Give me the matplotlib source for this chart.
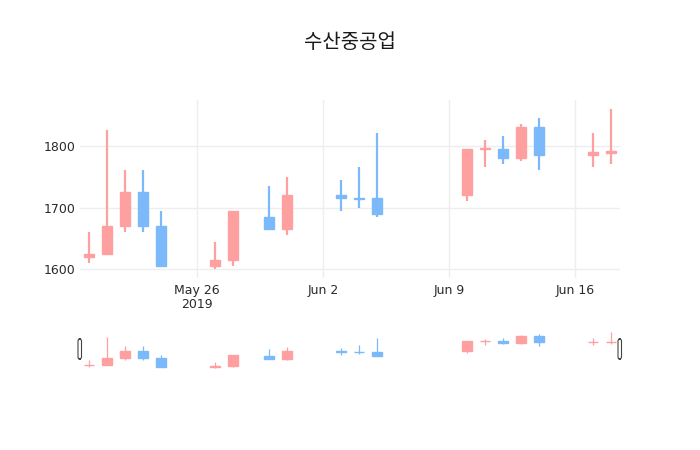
import numpy as np
import pandas as pd
import matplotlib
matplotlib.use("Agg")
import matplotlib.pyplot as plt
import matplotlib.dates as mdates
from matplotlib.patches import FancyBboxPatch

plt.rcParams['font.family'] = ['DejaVu Sans', 'Noto Sans CJK KR']

title = "수산중공업"
dates = ['2019-05-20', '2019-05-21', '2019-05-22', '2019-05-23', '2019-05-24',
         '2019-05-27', '2019-05-28', '2019-05-30', '2019-05-31',
         '2019-06-03', '2019-06-04', '2019-06-05',
         '2019-06-10', '2019-06-11', '2019-06-12', '2019-06-13', '2019-06-14',
         '2019-06-17', '2019-06-18']
opens = [1620, 1625, 1670, 1725, 1670, 1605, 1615, 1685, 1665, 1720, 1716, 1715,
         1720, 1794, 1795, 1780, 1830, 1785, 1789]
highs = [1660, 1825, 1760, 1760, 1695, 1645, 1695, 1735, 1750, 1745, 1765, 1820,
         1795, 1810, 1815, 1835, 1845, 1820, 1860]
lows = [1610, 1625, 1660, 1660, 1605, 1600, 1605, 1665, 1655, 1695, 1700, 1685,
        1710, 1765, 1770, 1775, 1760, 1765, 1770]
closes = [1625, 1670, 1725, 1670, 1605, 1615, 1695, 1665, 1720, 1715, 1714, 1690,
          1795, 1796, 1780, 1830, 1785, 1790, 1791]
xticks = ['2019-05-26', '2019-06-02', '2019-06-09', '2019-06-16']
xticklabels = ['May 26\n2019', 'Jun 2', 'Jun 9', 'Jun 16']
yticks = [1600, 1700, 1800]

UP = '#ffa0a0'
DOWN = '#7bb9fb'
TXT = '#2a2a2a'


def candles(ax, x, o, h, l, c, wick_lw, body_w):
    cols = [UP if cc > oo else DOWN for oo, cc in zip(o, c)]
    ax.vlines(x, l, h, colors=cols, linewidth=wick_lw, zorder=2)
    bottom = np.minimum(o, c)
    height = np.abs(np.array(c) - np.array(o))
    ax.bar(x, height, bottom=bottom, width=body_w, color=cols,
           edgecolor=cols, linewidth=1.0, zorder=3)


def main():
    x = mdates.date2num(pd.to_datetime(dates))
    o = np.array(opens)
    h = np.array(highs)
    l = np.array(lows)
    c = np.array(closes)
    xmin = x[0] - 0.5
    xmax = x[-1] + 0.5
    ylim = (1586, 1874)

    fig = plt.figure(figsize=(7, 4.5), dpi=100)
    ax = fig.add_axes([80/700, 1-278/450, 540/700, 178/450])
    candles(ax, x, o, h, l, c, 1.6, 0.52)
    ax.set_xlim(xmin, xmax)
    ax.set_ylim(*ylim)
    ax.set_xticks(mdates.date2num(pd.to_datetime(xticks)))
    ax.set_xticklabels(xticklabels, linespacing=1.1)
    ax.set_yticks(yticks)
    ax.grid(True, color='#eeeeee', linewidth=1, zorder=0)
    ax.set_axisbelow(True)
    ax.tick_params(length=0, labelsize=9, labelcolor=TXT)
    ax.tick_params(axis='x', pad=4)
    ax.tick_params(axis='y', pad=3)
    for s in ax.spines.values():
        s.set_visible(False)

    # range slider
    rs = fig.add_axes([80/700, 1-370/450, 540/700, 40/450])
    candles(rs, x, o, h, l, c, 0.9, 0.52)
    rs.set_xlim(xmin, xmax)
    rs.set_ylim(*ylim)
    rs.set_xticks([])
    rs.set_yticks([])
    for s in rs.spines.values():
        s.set_visible(False)
    for hx in (78/700, 618/700):
        fig.patches.append(FancyBboxPatch((hx, 1-359/450), 3.5/700, 20/450,
                                          boxstyle="round,pad=0,rounding_size=0.004",
                                          transform=fig.transFigure,
                                          facecolor='white', edgecolor='#444444',
                                          linewidth=0.8))

    fig.text(0.5, 1-42/450, title, ha='center', va='center', fontsize=14.4,
             color='#1a1a1a', family=['Noto Sans CJK KR', 'DejaVu Sans'])
    fig.savefig('out.png', dpi=100, facecolor='white')


if __name__ == '__main__':
    main()
